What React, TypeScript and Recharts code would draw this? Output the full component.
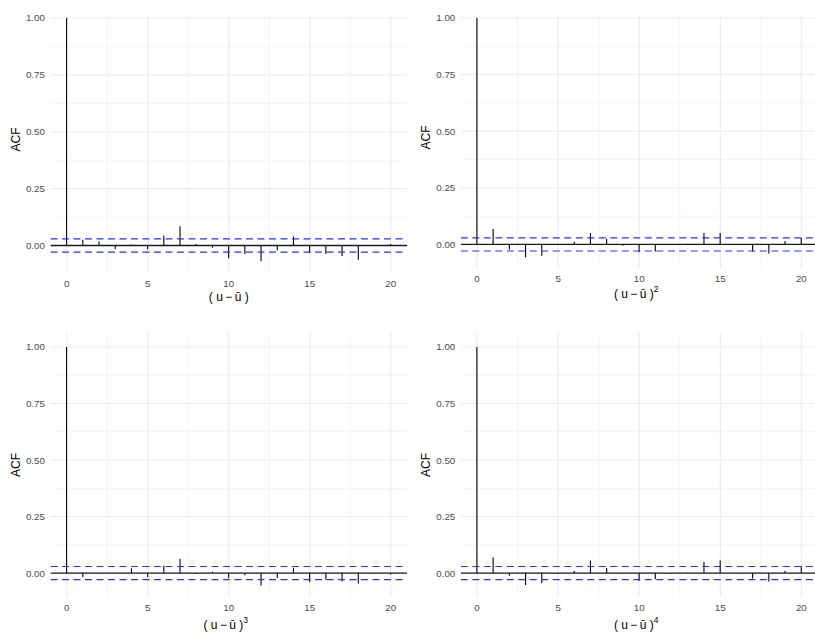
import React from "react";
import {
  ComposedChart,
  Bar,
  XAxis,
  YAxis,
  CartesianGrid,
  ReferenceLine,
} from "recharts";

// Lags shown on every panel
const lags = [0, 1, 2, 3, 4, 5, 6, 7, 8, 9, 10, 11, 12, 13, 14, 15, 16, 17, 18, 19, 20];

// Sample autocorrelations of the centred series and its powers
const acfPow1 = [1, 0.025, 0.018, -0.016, 0.004, -0.016, 0.044, 0.085, 0.007, -0.01, -0.056, -0.037, -0.069, -0.022, 0.04, -0.031, -0.037, -0.046, -0.063, 0.002, 0.007];
const acfPow2 = [1, 0.068, -0.022, -0.057, -0.05, -0.002, 0.012, 0.051, 0.025, -0.006, -0.034, -0.031, -0.003, 0.003, 0.051, 0.051, -0.003, -0.031, -0.04, 0.015, 0.028];
const acfPow3 = [1, -0.018, -0.002, 0.001, 0.021, -0.018, 0.032, 0.063, -0.004, 0.006, -0.022, -0.01, -0.055, -0.022, 0.024, -0.041, -0.03, -0.037, -0.046, -0.002, -0.006];
const acfPow4 = [1, 0.069, -0.012, -0.053, -0.044, -0.003, 0.01, 0.055, 0.022, -0.002, -0.035, -0.027, -0.003, 0.002, 0.049, 0.055, -0.002, -0.024, -0.037, 0.01, 0.03];

// Approximate 95% white-noise bound
const ciBound = 0.029;

// Axis ticks and grid values
const xTicks = [0, 5, 10, 15, 20];
const xMinor = [2.5, 7.5, 12.5, 17.5];
const yTicks = [0, 0.25, 0.5, 0.75, 1];
const yMinor = [0.125, 0.375, 0.625, 0.875];

const FONT = "'Liberation Sans', Arial, Helvetica, sans-serif";
const TICK_COLOR = "#4d4d4d";
const GRID_COLOR = "#ebebeb";
const CI_COLOR = "#2f2fff";

type PanelSpec = {
  values: number[];
  power: number | null;
  left: number;
  top: number;
  width: number;
  height: number;
  margin: { top: number; right: number; left: number; bottom: number };
  yAxisWidth: number;
  xAxisHeight: number;
  yDomain: [number, number];
  xTickMargin: number;
  titleOffset: number;
  acfShift: number;
};

const Stick = (props: any) => {
  const { x, y, width, height } = props;
  if (x == null || y == null) return null;
  const cx = x + width / 2;
  return <line x1={cx} x2={cx} y1={y} y2={y + height} stroke="#000" strokeWidth={1.1} />;
};

const XTitle = ({ viewBox, power, offset }: any) => {
  const cx = viewBox.x + viewBox.width / 2 - (power ? 3 : 0);
  const cy = viewBox.y + offset;
  return (
    <text
      x={cx}
      y={cy}
      textAnchor="middle"
      dominantBaseline="central"
      fontFamily={FONT}
      fontSize={12}
      fill="#000"
    >
      <tspan>{"( u\u2009\u2212\u2009\u016B )"}</tspan>
      {power ? (
        <tspan fontSize={8.5} dy={-5}>
          {String(power)}
        </tspan>
      ) : null}
    </text>
  );
};

const YTitle = ({ viewBox, shift }: any) => {
  const cx = 15.5;
  const cy = viewBox.y + viewBox.height / 2 + shift;
  return (
    <text
      x={cx}
      y={cy}
      transform={`rotate(-90, ${cx}, ${cy})`}
      textAnchor="middle"
      dominantBaseline="central"
      fontFamily={FONT}
      fontSize={12}
      fill="#000"
    >
      ACF
    </text>
  );
};

const Panel = ({ spec }: { spec: PanelSpec }) => {
  const data = lags.map((lag, i) => ({ lag, acf: spec.values[i] }));
  return (
    <div style={{ position: "absolute", left: spec.left, top: spec.top }}>
      <ComposedChart width={spec.width} height={spec.height} data={data} margin={spec.margin}>
        <CartesianGrid
          stroke={GRID_COLOR}
          strokeWidth={0.55}
          horizontalValues={yMinor}
          verticalValues={xMinor}
        />
        <CartesianGrid
          stroke={GRID_COLOR}
          strokeWidth={1.1}
          horizontalValues={yTicks}
          verticalValues={xTicks}
        />
        <XAxis
          dataKey="lag"
          type="number"
          domain={[-1, 21]}
          ticks={xTicks}
          allowDataOverflow
          axisLine={false}
          tickLine={false}
          tickSize={0}
          tickMargin={spec.xTickMargin}
          height={spec.xAxisHeight}
          tick={{ fontFamily: FONT, fontSize: 9.8, fill: TICK_COLOR }}
          label={{
            content: (p: any) => <XTitle viewBox={p.viewBox} power={spec.power} offset={spec.titleOffset} />,
          }}
        />
        <YAxis
          type="number"
          domain={spec.yDomain}
          ticks={yTicks}
          allowDataOverflow
          axisLine={false}
          tickLine={false}
          tickSize={0}
          tickMargin={5.5}
          width={spec.yAxisWidth}
          tickFormatter={(v: number) => v.toFixed(2)}
          tick={{ fontFamily: FONT, fontSize: 9.8, fill: TICK_COLOR }}
          label={{ content: (p: any) => <YTitle viewBox={p.viewBox} shift={spec.acfShift} /> }}
        />
        <ReferenceLine y={0} stroke="#1a1a1a" strokeWidth={1.3} ifOverflow="hidden" />
        <Bar dataKey="acf" barSize={2} shape={<Stick />} isAnimationActive={false} />
        <ReferenceLine y={ciBound} stroke={CI_COLOR} strokeWidth={1.2} strokeDasharray="7 4.5" ifOverflow="hidden" />
        <ReferenceLine y={-ciBound} stroke={CI_COLOR} strokeWidth={1.2} strokeDasharray="7 4.5" ifOverflow="hidden" />
      </ComposedChart>
    </div>
  );
};

const panels: PanelSpec[] = [
  {
    values: acfPow1,
    power: null,
    left: 0,
    top: 0,
    width: 410,
    height: 310,
    margin: { top: 15, right: 3, left: 0, bottom: 0 },
    yAxisWidth: 50.5,
    xAxisHeight: 38,
    yDomain: [-0.1165, 1.013],
    xTickMargin: 7.6,
    titleOffset: 25,
    acfShift: -4,
  },
  {
    values: acfPow2,
    power: 2,
    left: 410,
    top: 0,
    width: 410,
    height: 310,
    margin: { top: 15, right: 2.4, left: 0, bottom: 0 },
    yAxisWidth: 50.8,
    xAxisHeight: 42,
    yDomain: [-0.104, 1.013],
    xTickMargin: 6.6,
    titleOffset: 26,
    acfShift: -4,
  },
  {
    values: acfPow3,
    power: 3,
    left: 0,
    top: 320,
    width: 410,
    height: 316,
    margin: { top: 13, right: 3, left: 0, bottom: 0 },
    yAxisWidth: 50.5,
    xAxisHeight: 39,
    yDomain: [-0.106, 1.062],
    xTickMargin: 6.6,
    titleOffset: 28,
    acfShift: 0,
  },
  {
    values: acfPow4,
    power: 4,
    left: 410,
    top: 320,
    width: 410,
    height: 316,
    margin: { top: 13, right: 2.4, left: 0, bottom: 0 },
    yAxisWidth: 50.8,
    xAxisHeight: 39,
    yDomain: [-0.106, 1.062],
    xTickMargin: 6.6,
    titleOffset: 28,
    acfShift: 0,
  },
];

export default function App() {
  return (
    <div
      style={{
        position: "absolute",
        left: 0,
        top: 0,
        width: 815,
        height: 636,
        overflow: "hidden",
        background: "#fff",
      }}
    >
      {panels.map((spec, i) => (
        <Panel key={i} spec={spec} />
      ))}
    </div>
  );
}
